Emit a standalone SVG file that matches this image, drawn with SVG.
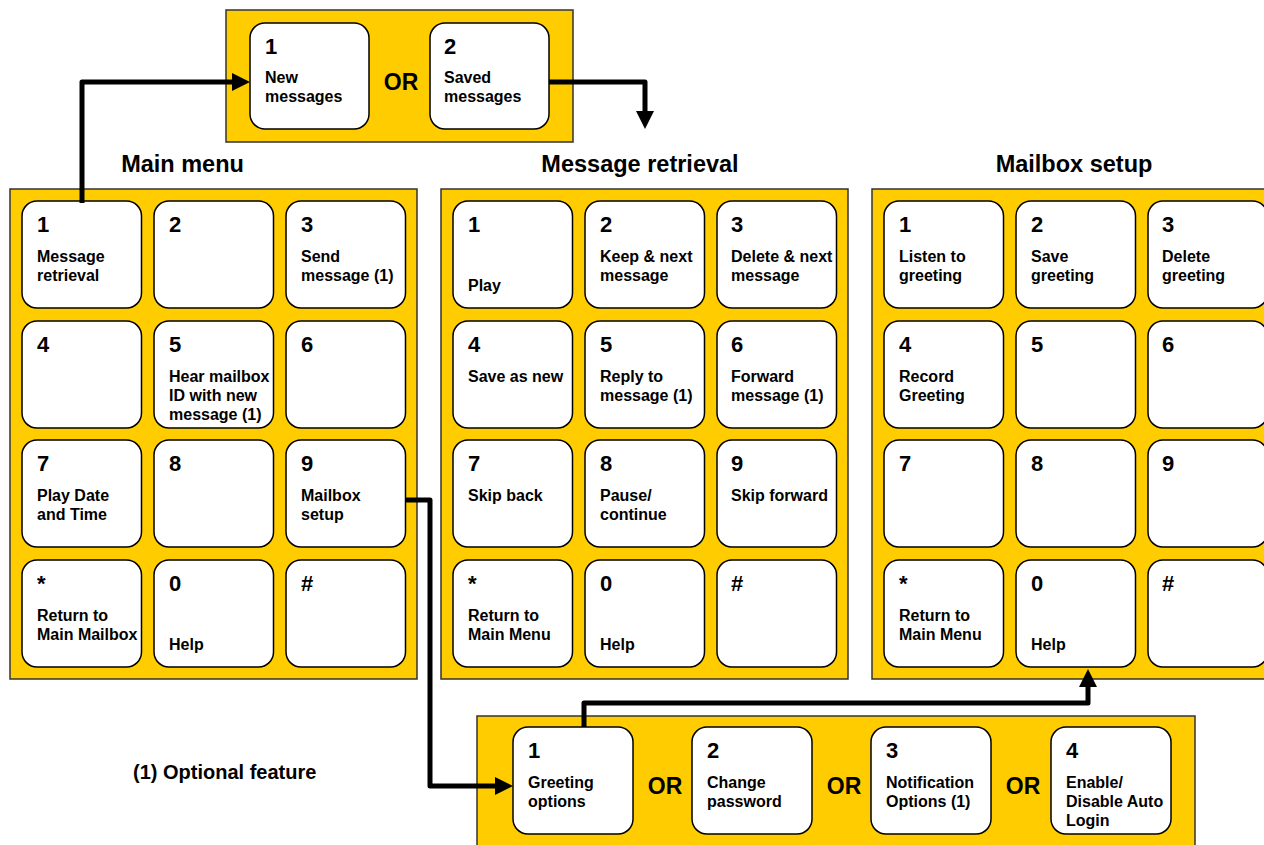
<svg xmlns="http://www.w3.org/2000/svg" width="1264" height="845" viewBox="0 0 1264 845">
<defs>
<style>
.panel{fill:#FFCC00;stroke:#333;stroke-width:1.5}
.key{fill:#fff;stroke:#000;stroke-width:1.5}
text{font-family:"Liberation Sans",Arial,sans-serif;font-weight:bold;fill:#000}
.num{font-size:22px}
.lbl{font-size:16px}
.title{font-size:23.5px;text-anchor:middle}
.or{font-size:23px;text-anchor:middle}
.note{font-size:20px}
.conn{fill:none;stroke:#000;stroke-width:5;stroke-linejoin:round}
</style>
<marker id="arr" viewBox="0 0 18 18" refX="1" refY="9" markerWidth="18" markerHeight="18" markerUnits="userSpaceOnUse" orient="auto">
<path d="M0,0 L18,9 L0,18 z" fill="#000"/>
</marker>
</defs>
<rect width="1264" height="845" fill="#fff"/>

<!-- Top box -->
<g id="retrieval-choice">
<rect class="panel" x="226" y="10" width="347" height="132"/>
<g id="new-messages"><rect class="key" x="250" y="23" width="119" height="106" rx="15"/>
<text class="num" x="265" y="54">1</text><text class="lbl" x="265" y="83">New</text><text class="lbl" x="265" y="102">messages</text></g>
<text class="or" x="401" y="90">OR</text>
<g id="saved-messages"><rect class="key" x="430" y="23" width="119" height="106" rx="15"/>
<text class="num" x="444" y="54">2</text><text class="lbl" x="444" y="83">Saved</text><text class="lbl" x="444" y="102">messages</text></g>
</g>

<!-- Titles -->
<text class="title" x="182.5" y="172">Main menu</text>
<text class="title" x="640" y="172">Message retrieval</text>
<text class="title" x="1074" y="172">Mailbox setup</text>

<!-- Main menu -->
<g id="main-menu">
<rect class="panel" x="10" y="189" width="407" height="490"/>
<g id="mm-1"><rect class="key" x="22" y="201" width="119.5" height="107" rx="15"/><text class="num" x="37" y="232">1</text><text class="lbl" x="37" y="262">Message</text><text class="lbl" x="37" y="281">retrieval</text></g>
<g id="mm-2"><rect class="key" x="154" y="201" width="119.5" height="107" rx="15"/><text class="num" x="169" y="232">2</text></g>
<g id="mm-3"><rect class="key" x="286" y="201" width="119.5" height="107" rx="15"/><text class="num" x="301" y="232">3</text><text class="lbl" x="301" y="262">Send</text><text class="lbl" x="301" y="281">message (1)</text></g>
<g id="mm-4"><rect class="key" x="22" y="321" width="119.5" height="107" rx="15"/><text class="num" x="37" y="352">4</text></g>
<g id="mm-5"><rect class="key" x="154" y="321" width="119.5" height="107" rx="15"/><text class="num" x="169" y="352">5</text><text class="lbl" x="169" y="382">Hear mailbox</text><text class="lbl" x="169" y="401">ID with new</text><text class="lbl" x="169" y="420">message (1)</text></g>
<g id="mm-6"><rect class="key" x="286" y="321" width="119.5" height="107" rx="15"/><text class="num" x="301" y="352">6</text></g>
<g id="mm-7"><rect class="key" x="22" y="440" width="119.5" height="107" rx="15"/><text class="num" x="37" y="471">7</text><text class="lbl" x="37" y="501">Play Date</text><text class="lbl" x="37" y="520">and Time</text></g>
<g id="mm-8"><rect class="key" x="154" y="440" width="119.5" height="107" rx="15"/><text class="num" x="169" y="471">8</text></g>
<g id="mm-9"><rect class="key" x="286" y="440" width="119.5" height="107" rx="15"/><text class="num" x="301" y="471">9</text><text class="lbl" x="301" y="501">Mailbox</text><text class="lbl" x="301" y="520">setup</text></g>
<g id="mm-star"><rect class="key" x="22" y="560" width="119.5" height="107" rx="15"/><text class="num" x="37" y="591">*</text><text class="lbl" x="37" y="621">Return to</text><text class="lbl" x="37" y="640">Main Mailbox</text></g>
<g id="mm-0"><rect class="key" x="154" y="560" width="119.5" height="107" rx="15"/><text class="num" x="169" y="591">0</text><text class="lbl" x="169" y="650">Help</text></g>
<g id="mm-hash"><rect class="key" x="286" y="560" width="119.5" height="107" rx="15"/><text class="num" x="301" y="591">#</text></g>
</g>

<!-- Message retrieval -->
<g id="message-retrieval">
<rect class="panel" x="441" y="189" width="407" height="490"/>
<g id="mr-1"><rect class="key" x="453" y="201" width="119.5" height="107" rx="15"/><text class="num" x="468" y="232">1</text><text class="lbl" x="468" y="291">Play</text></g>
<g id="mr-2"><rect class="key" x="585" y="201" width="119.5" height="107" rx="15"/><text class="num" x="600" y="232">2</text><text class="lbl" x="600" y="262">Keep &amp; next</text><text class="lbl" x="600" y="281">message</text></g>
<g id="mr-3"><rect class="key" x="717" y="201" width="119.5" height="107" rx="15"/><text class="num" x="731" y="232">3</text><text class="lbl" x="731" y="262">Delete &amp; next</text><text class="lbl" x="731" y="281">message</text></g>
<g id="mr-4"><rect class="key" x="453" y="321" width="119.5" height="107" rx="15"/><text class="num" x="468" y="352">4</text><text class="lbl" x="468" y="382">Save as new</text></g>
<g id="mr-5"><rect class="key" x="585" y="321" width="119.5" height="107" rx="15"/><text class="num" x="600" y="352">5</text><text class="lbl" x="600" y="382">Reply to</text><text class="lbl" x="600" y="401">message (1)</text></g>
<g id="mr-6"><rect class="key" x="717" y="321" width="119.5" height="107" rx="15"/><text class="num" x="731" y="352">6</text><text class="lbl" x="731" y="382">Forward</text><text class="lbl" x="731" y="401">message (1)</text></g>
<g id="mr-7"><rect class="key" x="453" y="440" width="119.5" height="107" rx="15"/><text class="num" x="468" y="471">7</text><text class="lbl" x="468" y="501">Skip back</text></g>
<g id="mr-8"><rect class="key" x="585" y="440" width="119.5" height="107" rx="15"/><text class="num" x="600" y="471">8</text><text class="lbl" x="600" y="501">Pause/</text><text class="lbl" x="600" y="520">continue</text></g>
<g id="mr-9"><rect class="key" x="717" y="440" width="119.5" height="107" rx="15"/><text class="num" x="731" y="471">9</text><text class="lbl" x="731" y="501">Skip forward</text></g>
<g id="mr-star"><rect class="key" x="453" y="560" width="119.5" height="107" rx="15"/><text class="num" x="468" y="591">*</text><text class="lbl" x="468" y="621">Return to</text><text class="lbl" x="468" y="640">Main Menu</text></g>
<g id="mr-0"><rect class="key" x="585" y="560" width="119.5" height="107" rx="15"/><text class="num" x="600" y="591">0</text><text class="lbl" x="600" y="650">Help</text></g>
<g id="mr-hash"><rect class="key" x="717" y="560" width="119.5" height="107" rx="15"/><text class="num" x="731" y="591">#</text></g>
</g>

<!-- Mailbox setup -->
<g id="mailbox-setup">
<rect class="panel" x="872" y="189" width="407" height="490"/>
<g id="ms-1"><rect class="key" x="884" y="201" width="119.5" height="107" rx="15"/><text class="num" x="899" y="232">1</text><text class="lbl" x="899" y="262">Listen to</text><text class="lbl" x="899" y="281">greeting</text></g>
<g id="ms-2"><rect class="key" x="1016" y="201" width="119.5" height="107" rx="15"/><text class="num" x="1031" y="232">2</text><text class="lbl" x="1031" y="262">Save</text><text class="lbl" x="1031" y="281">greeting</text></g>
<g id="ms-3"><rect class="key" x="1148" y="201" width="119.5" height="107" rx="15"/><text class="num" x="1162" y="232">3</text><text class="lbl" x="1162" y="262">Delete</text><text class="lbl" x="1162" y="281">greeting</text></g>
<g id="ms-4"><rect class="key" x="884" y="321" width="119.5" height="107" rx="15"/><text class="num" x="899" y="352">4</text><text class="lbl" x="899" y="382">Record</text><text class="lbl" x="899" y="401">Greeting</text></g>
<g id="ms-5"><rect class="key" x="1016" y="321" width="119.5" height="107" rx="15"/><text class="num" x="1031" y="352">5</text></g>
<g id="ms-6"><rect class="key" x="1148" y="321" width="119.5" height="107" rx="15"/><text class="num" x="1162" y="352">6</text></g>
<g id="ms-7"><rect class="key" x="884" y="440" width="119.5" height="107" rx="15"/><text class="num" x="899" y="471">7</text></g>
<g id="ms-8"><rect class="key" x="1016" y="440" width="119.5" height="107" rx="15"/><text class="num" x="1031" y="471">8</text></g>
<g id="ms-9"><rect class="key" x="1148" y="440" width="119.5" height="107" rx="15"/><text class="num" x="1162" y="471">9</text></g>
<g id="ms-star"><rect class="key" x="884" y="560" width="119.5" height="107" rx="15"/><text class="num" x="899" y="591">*</text><text class="lbl" x="899" y="621">Return to</text><text class="lbl" x="899" y="640">Main Menu</text></g>
<g id="ms-0"><rect class="key" x="1016" y="560" width="119.5" height="107" rx="15"/><text class="num" x="1031" y="591">0</text><text class="lbl" x="1031" y="650">Help</text></g>
<g id="ms-hash"><rect class="key" x="1148" y="560" width="119.5" height="107" rx="15"/><text class="num" x="1162" y="591">#</text></g>
</g>

<!-- Bottom options -->
<g id="setup-options">
<rect class="panel" x="477" y="716" width="718" height="145"/>
<g id="opt-1"><rect class="key" x="513" y="727" width="120" height="107" rx="15"/><text class="num" x="528" y="758">1</text><text class="lbl" x="528" y="788">Greeting</text><text class="lbl" x="528" y="807">options</text></g>
<text class="or" x="665" y="794">OR</text>
<g id="opt-2"><rect class="key" x="692" y="727" width="120" height="107" rx="15"/><text class="num" x="707" y="758">2</text><text class="lbl" x="707" y="788">Change</text><text class="lbl" x="707" y="807">password</text></g>
<text class="or" x="844" y="794">OR</text>
<g id="opt-3"><rect class="key" x="871" y="727" width="120" height="107" rx="15"/><text class="num" x="886" y="758">3</text><text class="lbl" x="886" y="788">Notification</text><text class="lbl" x="886" y="807">Options (1)</text></g>
<text class="or" x="1023" y="794">OR</text>
<g id="opt-4"><rect class="key" x="1051" y="727" width="120" height="107" rx="15"/><text class="num" x="1066" y="758">4</text><text class="lbl" x="1066" y="788">Enable/</text><text class="lbl" x="1066" y="807">Disable Auto</text><text class="lbl" x="1066" y="826">Login</text></g>
</g>

<text class="note" x="133" y="779">(1) Optional feature</text>

<!-- Connectors -->
<g id="connectors">
<path class="conn" d="M82,203 V82 H233" marker-end="url(#arr)"/>
<path class="conn" d="M549,82 H645 V112" marker-end="url(#arr)"/>
<path class="conn" d="M405,500 H430 V786 H496" marker-end="url(#arr)"/>
<path class="conn" d="M584,727 V703 H1088 V686" marker-end="url(#arr)"/>
</g>
</svg>
